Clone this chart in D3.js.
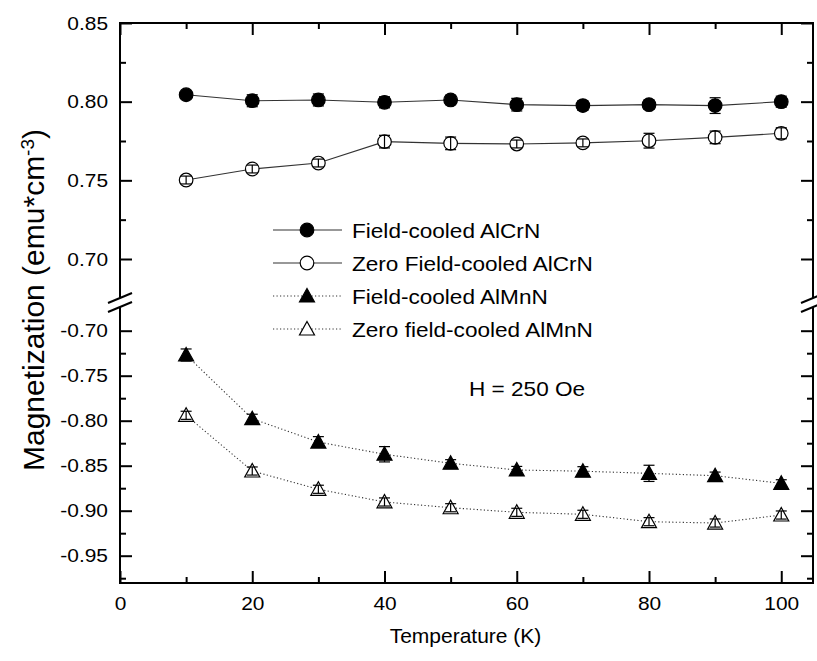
<!DOCTYPE html>
<html>
<head>
<meta charset="utf-8">
<script src="https://cdn.jsdelivr.net/npm/d3@7"></script>
<style>
  html, body { margin: 0; padding: 0; background: #fff; }
  text { font-family: Arial, "Liberation Sans", Helvetica, sans-serif; fill: #000; }
</style>
</head>
<body>
<svg id="chart" width="817" height="661"></svg>
<script>
// ---------- data ----------
const temps = [10, 20, 30, 40, 50, 60, 70, 80, 90, 100];

const fcCr     = [0.8044, 0.8006, 0.8011, 0.7996, 0.8011, 0.7981, 0.7975, 0.7981, 0.7975, 0.8000];
const fcCrErr  = [0.0020, 0.0038, 0.0038, 0.0035, 0.0030, 0.0040, 0.0030, 0.0030, 0.0050, 0.0035];
const zfcCr    = [0.7502, 0.7572, 0.7610, 0.7746, 0.7735, 0.7731, 0.7738, 0.7752, 0.7773, 0.7799];
const zfcCrErr = [0.0025, 0.0025, 0.0025, 0.0040, 0.0040, 0.0025, 0.0025, 0.0047, 0.0040, 0.0035];
const fcMn     = [-0.7270, -0.7978, -0.8237, -0.8373, -0.8473, -0.8548, -0.8561, -0.8585, -0.8611, -0.8696];
const fcMnErr  = [0.0067, 0.0050, 0.0060, 0.0085, 0.0040, 0.0040, 0.0050, 0.0090, 0.0040, 0.0040];
const zfcMn    = [-0.7940, -0.8559, -0.8762, -0.8903, -0.8967, -0.9018, -0.9040, -0.9122, -0.9137, -0.9048];
const zfcMnErr = [0.0045, 0.0045, 0.0045, 0.0045, 0.0045, 0.0045, 0.0045, 0.0045, 0.0045, 0.0045];

const xTicks = [0, 20, 40, 60, 80, 100];
const xMinorTicks = [10, 30, 50, 70, 90];
const yUpperTicks = [0.70, 0.75, 0.80, 0.85];
const yUpperMinor = [0.725, 0.775, 0.825];
const yLowerTicks = [-0.95, -0.90, -0.85, -0.80, -0.75, -0.70];
const yLowerMinor = [-0.975, -0.925, -0.875, -0.825, -0.775, -0.725];

const legendLabels = ["Field-cooled AlCrN", "Zero Field-cooled AlCrN", "Field-cooled AlMnN", "Zero field-cooled AlMnN"];

// ---------- layout ----------
const L = 120, R = 813, T = 23, B = 583;
const breakTop = 298, breakBot = 307;

const svg = d3.select("#chart");
svg.append("rect").attr("width", 817).attr("height", 661).attr("fill", "#fff");

const x = d3.scaleLinear().domain([0, 104.8]).range([L, R]);
const yU = d3.scaleLinear().domain([0.70, 0.85]).range([259, 23]);
const yL = d3.scaleLinear().domain([-0.95, -0.70]).range([555.7, 330.7]);

const fmt = d => d.toFixed(2);
const tickFont = "19px";

// widen text slightly (reference glyphs are horizontally stretched)
function stretch(sel, factor) {
  sel.each(function () {
    const n = this.getComputedTextLength();
    if (n > 0) d3.select(this).attr("textLength", n * factor).attr("lengthAdjust", "spacingAndGlyphs");
  });
}

// ---------- axes ----------
function styleAxis(g) {
  g.select(".domain").remove();
  g.selectAll(".tick line").attr("stroke", "#000").attr("stroke-width", 2);
  g.selectAll(".tick text").style("font-size", tickFont).attr("font-family", null);
  stretch(g.selectAll(".tick text"), 1.1);
}

// bottom x axis
svg.append("g").attr("transform", `translate(0,${B})`)
  .call(d3.axisBottom(x).tickValues(xTicks).tickFormat(d3.format("d")).tickSizeInner(-12).tickSizeOuter(0).tickPadding(14))
  .call(styleAxis);
svg.append("g").attr("transform", `translate(0,${B})`)
  .call(d3.axisBottom(x).tickValues(xMinorTicks).tickFormat("").tickSizeInner(-6).tickSizeOuter(0))
  .call(styleAxis);
// top x axis
svg.append("g").attr("transform", `translate(0,${T})`)
  .call(d3.axisTop(x).tickValues(xTicks).tickFormat("").tickSizeInner(-12).tickSizeOuter(0))
  .call(styleAxis);
svg.append("g").attr("transform", `translate(0,${T})`)
  .call(d3.axisTop(x).tickValues(xMinorTicks).tickFormat("").tickSizeInner(-6).tickSizeOuter(0))
  .call(styleAxis);

// left y axes
svg.append("g").attr("transform", `translate(${L},0)`)
  .call(d3.axisLeft(yU).tickValues(yUpperTicks).tickFormat(fmt).tickSizeInner(-12).tickSizeOuter(0).tickPadding(12))
  .call(styleAxis);
svg.append("g").attr("transform", `translate(${L},0)`)
  .call(d3.axisLeft(yU).tickValues(yUpperMinor).tickFormat("").tickSizeInner(-6).tickSizeOuter(0))
  .call(styleAxis);
svg.append("g").attr("transform", `translate(${L},0)`)
  .call(d3.axisLeft(yL).tickValues(yLowerTicks).tickFormat(fmt).tickSizeInner(-12).tickSizeOuter(0).tickPadding(12))
  .call(styleAxis);
svg.append("g").attr("transform", `translate(${L},0)`)
  .call(d3.axisLeft(yL).tickValues(yLowerMinor).tickFormat("").tickSizeInner(-6).tickSizeOuter(0))
  .call(styleAxis);

// right y axes
svg.append("g").attr("transform", `translate(${R},0)`)
  .call(d3.axisRight(yU).tickValues(yUpperTicks).tickFormat("").tickSizeInner(-12).tickSizeOuter(0))
  .call(styleAxis);
svg.append("g").attr("transform", `translate(${R},0)`)
  .call(d3.axisRight(yU).tickValues(yUpperMinor).tickFormat("").tickSizeInner(-6).tickSizeOuter(0))
  .call(styleAxis);
svg.append("g").attr("transform", `translate(${R},0)`)
  .call(d3.axisRight(yL).tickValues(yLowerTicks).tickFormat("").tickSizeInner(-12).tickSizeOuter(0))
  .call(styleAxis);
svg.append("g").attr("transform", `translate(${R},0)`)
  .call(d3.axisRight(yL).tickValues(yLowerMinor).tickFormat("").tickSizeInner(-6).tickSizeOuter(0))
  .call(styleAxis);

// frame with breaks
const frame = svg.append("g").attr("stroke", "#000").attr("stroke-width", 2).attr("fill", "none");
frame.append("line").attr("x1", L - 1).attr("x2", R + 1).attr("y1", T).attr("y2", T);
frame.append("line").attr("x1", L - 1).attr("x2", R + 1).attr("y1", B).attr("y2", B);
[L, R].forEach(xx => {
  frame.append("line").attr("x1", xx).attr("x2", xx).attr("y1", T).attr("y2", breakTop);
  frame.append("line").attr("x1", xx).attr("x2", xx).attr("y1", breakBot).attr("y2", B);
  frame.append("line").attr("x1", xx - 12).attr("x2", xx + 12).attr("y1", breakTop + 5).attr("y2", breakTop - 5);
  frame.append("line").attr("x1", xx - 12).attr("x2", xx + 12).attr("y1", breakBot + 5).attr("y2", breakBot - 5);
});

// ---------- series ----------
const triPath = "M0,-7.5L7.5,6L-7.5,6Z";
const series = [
  { vals: fcCr,  err: fcCrErr,  y: yU, shape: "circle",   fill: "#000", dash: null },
  { vals: zfcCr, err: zfcCrErr, y: yU, shape: "circle",   fill: "#fff", dash: null },
  { vals: fcMn,  err: fcMnErr,  y: yL, shape: "triangle", fill: "#000", dash: "1.2,2.3" },
  { vals: zfcMn, err: zfcMnErr, y: yL, shape: "triangle", fill: "#fff", dash: "1.2,2.3" }
];

function drawMarker(g, shape, fill, cx, cy) {
  if (shape === "circle") {
    g.append("circle").attr("cx", cx).attr("cy", cy).attr("r", 6.8)
      .attr("fill", fill).attr("stroke", "#000").attr("stroke-width", 1.2);
  } else {
    g.append("path").attr("d", triPath).attr("transform", `translate(${cx},${cy})`)
      .attr("fill", fill).attr("stroke", "#000").attr("stroke-width", 1.2);
  }
}

series.forEach(s => {
  const pts = temps.map((t, i) => [x(t), s.y(s.vals[i])]);
  const line = d3.line();
  const p = svg.append("path").attr("d", line(pts)).attr("fill", "none")
    .attr("stroke", "#333").attr("stroke-width", 1.1);
  if (s.dash) p.attr("stroke-dasharray", s.dash);

  const g = svg.append("g");
  temps.forEach((t, i) => drawMarker(g, s.shape, s.fill, x(t), s.y(s.vals[i])));

  const eb = svg.append("g").attr("stroke", "#000").attr("stroke-width", 1.2);
  temps.forEach((t, i) => {
    const cx = x(t), y1 = s.y(s.vals[i] - s.err[i]), y2 = s.y(s.vals[i] + s.err[i]);
    eb.append("line").attr("x1", cx).attr("x2", cx).attr("y1", y1).attr("y2", y2);
    eb.append("line").attr("x1", cx - 5.5).attr("x2", cx + 5.5).attr("y1", y1).attr("y2", y1);
    eb.append("line").attr("x1", cx - 5.5).attr("x2", cx + 5.5).attr("y1", y2).attr("y2", y2);
  });
});

// ---------- legend ----------
const legY = [230, 263, 296, 329];
const leg = svg.append("g");
series.forEach((s, i) => {
  const ly = legY[i];
  const ln = leg.append("line").attr("x1", 273).attr("x2", 342).attr("y1", ly).attr("y2", ly)
    .attr("stroke", "#333").attr("stroke-width", 1.1);
  if (s.dash) ln.attr("stroke-dasharray", s.dash);
  drawMarker(leg, s.shape, s.fill, 307, ly);
  leg.append("text").attr("class", "wide").attr("x", 352).attr("y", ly).attr("dy", "0.36em")
    .style("font-size", "21px").text(legendLabels[i]);
});

// annotation
svg.append("text").attr("class", "wide").attr("x", 469).attr("y", 388).attr("dy", "0.36em")
  .style("font-size", "21px").text("H = 250 Oe");

stretch(svg.selectAll("text.wide"), 1.075);

// axis titles
svg.append("text").attr("x", (L + R) / 2 - 1).attr("y", 643).attr("text-anchor", "middle")
  .style("font-size", "21px").text("Temperature (K)");

const yt = svg.append("text").attr("transform", "translate(44,300) rotate(-90)")
  .attr("text-anchor", "middle").style("font-size", "30px");
yt.append("tspan").text("Magnetization (emu*cm");
yt.append("tspan").attr("baseline-shift", "super").style("font-size", "19px").text("-3");
yt.append("tspan").text(")");
</script>
</body>
</html>
